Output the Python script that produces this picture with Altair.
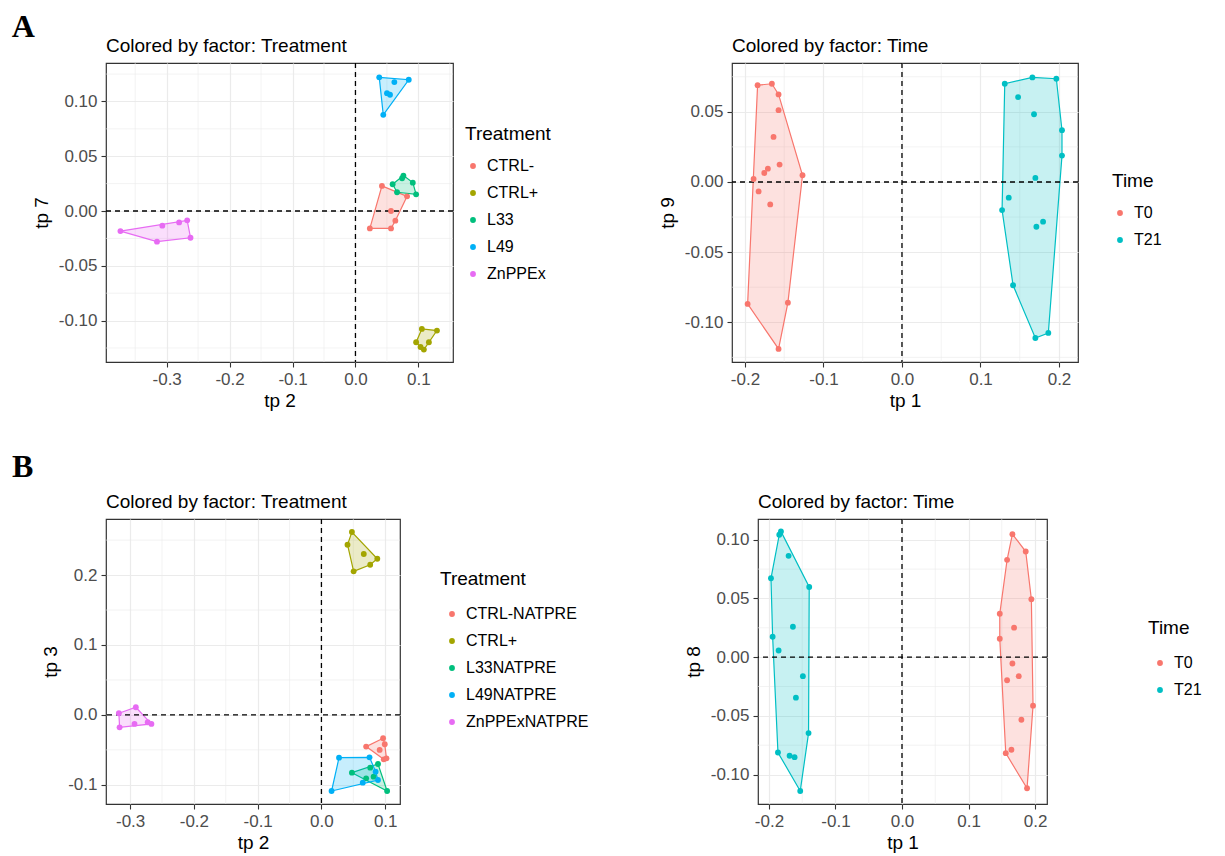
import altair as alt
import pandas as pd

# ---------------- data ----------------
# Panel A, colored by Treatment (tp 2 vs tp 7)
A1_cats = ["CTRL-", "CTRL+", "L33", "L49", "ZnPPEx"]
A1_colors = ["#F8766D", "#A3A500", "#00BF7D", "#00B0F6", "#E76BF3"]
A1_group = (["CTRL-"] * 6 + ["CTRL+"] * 6 + ["L33"] * 6 + ["L49"] * 6 + ["ZnPPEx"] * 6)
A1_x = [0.0421, 0.0820, 0.0565, 0.0634, 0.0229, 0.0565,
        0.1055, 0.1295, 0.0964, 0.1167, 0.1034, 0.1087,
        0.0762, 0.0741, 0.0591, 0.0911, 0.0661, 0.0964,
        0.0378, 0.0618, 0.0847, 0.0501, 0.0549, 0.0442,
        -0.3735, -0.3069, -0.2802, -0.2674, -0.2621, -0.3154]
A1_y = [0.0229, 0.0134, 0.0000, -0.0088, -0.0159, -0.0159,
        -0.1076, -0.1091, -0.1198, -0.1198, -0.1241, -0.1265,
        0.0323, 0.0299, 0.0244, 0.0259, 0.0171, 0.0152,
        0.1220, 0.1177, 0.1198, 0.1076, 0.1061, 0.0878,
        -0.0183, -0.0134, -0.0104, -0.0085, -0.0244, -0.0280]

# Panel A, colored by Time (tp 1 vs tp 9)
A2_cats = ["T0", "T21"]
A2_colors = ["#F8766D", "#00BFC4"]
A2_group = ["T0"] * 15 + ["T21"] * 15
A2_x = [-0.1839, -0.1657, -0.1572, -0.1572, -0.1636, -0.1559, -0.1708, -0.1754,
        -0.1890, -0.1826, -0.1678, -0.1267, -0.1453, -0.1966, -0.1572,
        0.1309, 0.1661, 0.1966, 0.1479, 0.1682, 0.2038, 0.2038, 0.1699,
        0.1360, 0.1275, 0.1712, 0.1797, 0.1415, 0.1699, 0.1864]
A2_y = [0.0690, 0.0700, 0.0624, 0.0512, 0.0321, 0.0124, 0.0095, 0.0064,
        0.0021, -0.0067, -0.0160, 0.0048, -0.0860, -0.0869, -0.1190,
        0.0700, 0.0745, 0.0736, 0.0605, 0.0483, 0.0369, 0.0188, 0.0029,
        -0.0112, -0.0200, -0.0319, -0.0283, -0.0736, -0.1112, -0.1076]

# Panel B, colored by Treatment (tp 2 vs tp 3)
B1_cats = ["CTRL-NATPRE", "CTRL+", "L33NATPRE", "L49NATPRE", "ZnPPExNATPRE"]
B1_colors = ["#F8766D", "#A3A500", "#00BF7D", "#00B0F6", "#E76BF3"]
B1_group = (["CTRL-NATPRE"] * 6 + ["CTRL+"] * 6 + ["L33NATPRE"] * 6
            + ["L49NATPRE"] * 6 + ["ZnPPExNATPRE"] * 6)
B1_x = [0.0701, 0.0967, 0.0993, 0.0913, 0.1020, 0.0977,
        0.0478, 0.0409, 0.0664, 0.0876, 0.0765, 0.0505,
        0.0478, 0.0765, 0.0887, 0.1030, 0.0701, 0.0818,
        0.0276, 0.0754, 0.0850, 0.0887, 0.0648, 0.0159,
        -0.3176, -0.2910, -0.3165, -0.2931, -0.2724, -0.2666]
B1_y = [-0.0453, -0.0334, -0.0420, -0.0501, -0.0621, -0.0635,
        0.2616, 0.2434, 0.2301, 0.2234, 0.2148, 0.2053,
        -0.0826, -0.0754, -0.0702, -0.1088, -0.0907, -0.0883,
        -0.0611, -0.0606, -0.0811, -0.0931, -0.0969, -0.1088,
        0.0024, 0.0110, -0.0177, -0.0129, -0.0105, -0.0129]

# Panel B, colored by Time (tp 1 vs tp 8)
B2_cats = ["T0", "T21"]
B2_colors = ["#F8766D", "#00BFC4"]
B2_group = ["T0"] * 15 + ["T21"] * 15
B2_x = [0.166, 0.186, 0.158, 0.1945, 0.147, 0.1685, 0.147, 0.166,
        0.1755, 0.158, 0.197, 0.1795, 0.156, 0.1645, 0.188,
        -0.182, -0.1845, -0.1705, -0.197, -0.1395, -0.164, -0.1945, -0.1855,
        -0.149, -0.1595, -0.1405, -0.1865, -0.169, -0.1615, -0.153]
B2_y = [0.1048, 0.0900, 0.0829, 0.0493, 0.0370, 0.0251, 0.0157, -0.0054,
        -0.0162, -0.0197, -0.0413, -0.0533, -0.0818, -0.0789, -0.1117,
        0.1071, 0.1043, 0.0863, 0.0672, 0.0598, 0.0259, 0.0174, 0.0057,
        -0.0162, -0.0345, -0.0647, -0.0812, -0.0840, -0.0852, -0.1140]

FONT = "Liberation Sans"


def convex_hull(points):
    pts = sorted(set(points))
    if len(pts) <= 2:
        return pts

    def cross(o, a, b):
        return (a[0] - o[0]) * (b[1] - o[1]) - (a[1] - o[1]) * (b[0] - o[0])

    lower, upper = [], []
    for p in pts:
        while len(lower) >= 2 and cross(lower[-2], lower[-1], p) <= 0:
            lower.pop()
        lower.append(p)
    for p in reversed(pts):
        while len(upper) >= 2 and cross(upper[-2], upper[-1], p) <= 0:
            upper.pop()
        upper.append(p)
    return lower[:-1] + upper[:-1]


def axis(majors, fmt, title):
    return alt.Axis(
        values=majors,
        labelExpr=f"(datum.value < 0 ? '-' : '') + format(abs(datum.value), '{fmt}')",
        labelOverlap=False,
        labelFlush=False,
        title=title,
    )


def panel(group, xs, ys, cats, colors, dom_x, dom_y, xmaj, xmin, xfmt, ymaj, ymin, yfmt,
          xtitle, ytitle, title, legend_title, w, h, lx, ly, sym_off, lab_off, tpad):
    df = pd.DataFrame({"g": group, "x": xs, "y": ys})
    rows = []
    for g in cats:
        sub = df[df.g == g]
        hl = convex_hull(list(zip(sub.x, sub.y)))
        hl = hl + [hl[0]]
        for i, (px, py) in enumerate(hl):
            rows.append({"h": g + " hull", "x": px, "y": py, "o": i})
    hdf = pd.DataFrame(rows)

    xenc = alt.X("x:Q", scale=alt.Scale(domain=dom_x, nice=False, zero=False),
                 axis=axis(xmaj, xfmt, xtitle))
    yenc = alt.Y("y:Q", scale=alt.Scale(domain=dom_y, nice=False, zero=False),
                 axis=axis(ymaj, yfmt, ytitle))
    sc = alt.Scale(domain=cats, range=colors)
    sc_hull = alt.Scale(domain=[c + " hull" for c in cats], range=colors)

    gx = alt.Chart(pd.DataFrame({"x": xmin})).mark_rule(
        color="#EBEBEB", strokeWidth=0.6).encode(x=xenc)
    gy = alt.Chart(pd.DataFrame({"y": ymin})).mark_rule(
        color="#EBEBEB", strokeWidth=0.6).encode(y=yenc)
    hull = alt.Chart(hdf).mark_line(strokeWidth=1.2, fillOpacity=0.22).encode(
        x=xenc, y=yenc, order="o:Q", detail="h:N",
        stroke=alt.Stroke("h:N", scale=sc_hull, legend=None),
        fill=alt.Fill("h:N", scale=sc_hull, legend=None),
    )
    vline = alt.Chart(pd.DataFrame({"v": [0]})).mark_rule(
        color="black", strokeDash=[5, 4], strokeWidth=1.3).encode(x=alt.datum(0))
    hline = alt.Chart(pd.DataFrame({"v": [0]})).mark_rule(
        color="black", strokeDash=[5, 4], strokeWidth=1.3).encode(y=alt.datum(0))
    pts = alt.Chart(df).mark_circle(size=34, opacity=1).encode(
        x=xenc, y=yenc,
        color=alt.Color("g:N", scale=sc,
                        legend=alt.Legend(title=legend_title, orient="none",
                                          legendX=lx, legendY=ly, titlePadding=tpad,
                                          symbolOffset=sym_off, labelOffset=lab_off)),
    )
    return alt.layer(gx, gy, hull, vline, hline, pts).properties(
        width=w, height=h,
        title=alt.TitleParams(title, anchor="start", frame="group"),
    )


pA1 = panel(A1_group, A1_x, A1_y, A1_cats, A1_colors,
            [-0.3964, 0.155], [-0.1378, 0.1351],
            [-0.3, -0.2, -0.1, 0, 0.1], [-0.35, -0.25, -0.15, -0.05, 0.05, 0.15], ".1f",
            [-0.1, -0.05, 0, 0.05, 0.1], [-0.125, -0.075, -0.025, 0.025, 0.075, 0.125], ".2f",
            "tp 2", "tp 7", "Colored by factor: Treatment", "Treatment",
            347, 299, 359, 62, 0, 6, 14)
pA2 = panel(A2_group, A2_x, A2_y, A2_cats, A2_colors,
            [-0.2165, 0.2242], [-0.1283, 0.0848],
            [-0.2, -0.1, 0, 0.1, 0.2], [-0.15, -0.05, 0.05, 0.15], ".1f",
            [-0.1, -0.05, 0, 0.05], [-0.125, -0.075, -0.025, 0.025, 0.075], ".2f",
            "tp 1", "tp 9", "Colored by factor: Time", "Time",
            346, 299, 380, 109, 0, 6, 14)
pB1 = panel(B1_group, B1_x, B1_y, B1_cats, B1_colors,
            [-0.3378, 0.1232], [-0.1274, 0.2802],
            [-0.3, -0.2, -0.1, 0, 0.1], [-0.25, -0.15, -0.05, 0.05], ".1f",
            [-0.1, 0, 0.1, 0.2], [-0.05, 0.05, 0.15, 0.25], ".1f",
            "tp 2", "tp 3", "Colored by factor: Treatment", "Treatment",
            294, 285, 334, 51, 4, 6, 17)
pB2 = panel(B2_group, B2_x, B2_y, B2_cats, B2_colors,
            [-0.2165, 0.218], [-0.1251, 0.1177],
            [-0.2, -0.1, 0, 0.1, 0.2], [-0.15, -0.05, 0.05, 0.15], ".1f",
            [-0.1, -0.05, 0, 0.05, 0.1], [-0.075, -0.025, 0.025, 0.075], ".2f",
            "tp 1", "tp 8", "Colored by factor: Time", "Time",
            289, 285, 390, 100, 4, 6, 17)

ind = dict(x="independent", y="independent", color="independent",
           fill="independent", stroke="independent")


def row_title(letter, dx, off):
    return alt.TitleParams(letter, anchor="start", frame="bounds", font="Liberation Serif",
                           fontSize=32, fontWeight="bold", color="black", dx=dx, offset=off)


rowA = alt.hconcat(pA1, pA2, spacing=279, bounds="flush").resolve_scale(**ind).properties(
    title=row_title("A", -20, -7))
rowB = alt.hconcat(pB1, pB2, spacing=358, bounds="flush").resolve_scale(**ind).properties(
    title=row_title("B", -29, 9))

chart = alt.vconcat(rowA, rowB, spacing=39).resolve_scale(**ind).properties(
    padding={"left": 3, "top": 2, "right": 5, "bottom": 5}
).configure_view(
    stroke="#333333", strokeWidth=1.2
).configure_axis(
    labelFont=FONT, labelFontSize=17, labelColor="#4D4D4D", labelPadding=4,
    titleFont=FONT, titleFontSize=19, titleColor="black", titleFontWeight="normal",
    domain=False, tickColor="#333333", tickSize=5, tickWidth=1.1,
    grid=True, gridColor="#EBEBEB", gridWidth=1.2,
).configure_axisY(
    titlePadding=7,
).configure_axisX(
    titlePadding=4,
).configure_title(
    font=FONT, fontSize=19, fontWeight="normal", color="black", anchor="start", offset=6,
).configure_legend(
    titleFont=FONT, titleFontSize=19, titleColor="black", titleFontWeight="normal",
    labelFont=FONT, labelFontSize=16, labelColor="black",
    symbolType="circle", symbolSize=34, symbolStrokeWidth=0,
    rowPadding=11,
)

chart.save("out.html", embed_options={"renderer": "svg", "actions": False})
